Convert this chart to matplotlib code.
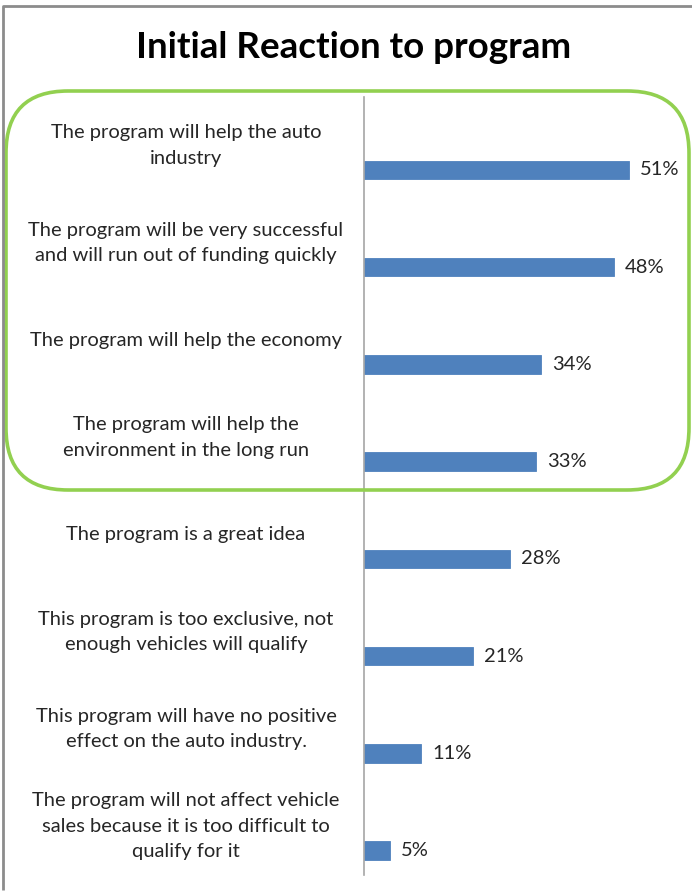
import matplotlib
matplotlib.use("Agg")
import matplotlib.pyplot as plt
from matplotlib.patches import FancyBboxPatch
from matplotlib.transforms import blended_transform_factory

# Survey responses, top to bottom
reactions = [
    "The program will help the auto\nindustry",
    "The program will be very successful\nand will run out of funding quickly",
    "The program will help the economy",
    "The program will help the\nenvironment in the long run",
    "The program is a great idea",
    "This program is too exclusive, not\nenough vehicles will qualify",
    "This program will have no positive\neffect on the auto industry.",
    "The program will not affect vehicle\nsales because it is too difficult to\nqualify for it",
]
share_pct = [51, 48, 34, 33, 28, 21, 11, 5]

plt.rcParams["font.family"] = ["Lato", "DejaVu Sans"]

W, H = 692, 893
fig = plt.figure(figsize=(W / 100, H / 100), dpi=100)
fig.patch.set_facecolor("white")

# plot area (pixel box: x 364..676, y 97..875)
ax = fig.add_axes([364 / W, 1 - 875 / H, 312 / W, 778 / H])
pos = list(range(len(reactions)))
bar_pos = [p + 0.25 for p in pos]
ax.barh(bar_pos, share_pct, height=0.19, color="#4F81BD", edgecolor="#4F81BD", linewidth=0.6)
ax.set_xlim(0, 60)
ax.set_ylim(len(reactions) - 0.5, -0.5)

for spine in ["top", "right", "bottom"]:
    ax.spines[spine].set_visible(False)
ax.spines["left"].set_color("#A6A6A6")
ax.spines["left"].set_linewidth(1.2)
ax.set_xticks([])
ax.set_yticks([])

for y, v in zip(bar_pos, share_pct):
    ax.annotate(f"{v}%", (v, y), xytext=(8, 0), textcoords="offset points",
                va="center", ha="left", fontsize=14.5, color="#262626")

# category labels, centred in the left column
trans = blended_transform_factory(fig.transFigure, ax.transData)
for y, lab in zip(pos, reactions):
    ax.text(186 / W, y, lab, transform=trans, ha="center", va="center",
            multialignment="center", fontsize=14.5, color="#262626",
            linespacing=1.6)

fig.text(354 / W, 1 - 48 / H, "Initial Reaction to program", ha="center",
         va="center", fontsize=26.5, fontweight="bold", color="black")

# overlay in pixel units for the frame and the highlight box
ov = fig.add_axes([0, 0, 1, 1], facecolor="none")
ov.set_xlim(0, W)
ov.set_ylim(H, 0)
ov.axis("off")
ov.plot([3, 3, W], [H - 3, 6, 6], color="#8C8C8C", lw=2, solid_capstyle="butt")
box = FancyBboxPatch((6, 91), 683, 399, boxstyle="round,pad=0,rounding_size=62",
                     fill=False, edgecolor="#92D050", linewidth=2.6)
ov.add_patch(box)

fig.savefig("out.png", dpi=100)
